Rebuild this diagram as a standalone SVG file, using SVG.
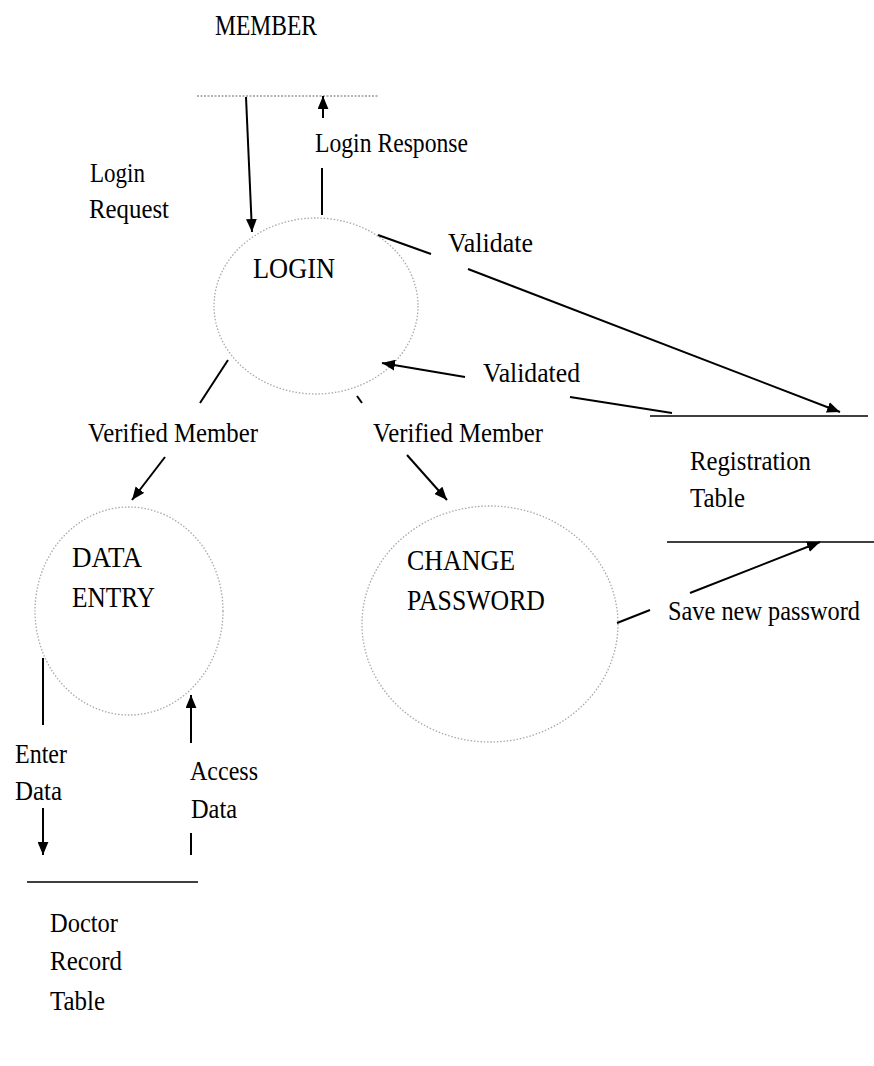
<svg xmlns="http://www.w3.org/2000/svg" width="874" height="1066" viewBox="0 0 874 1066">
<defs>
<style>
.t{font-family:"Liberation Serif","Times New Roman",serif;font-size:27px;fill:#000;}
.c{font-family:"Liberation Serif","Times New Roman",serif;font-size:29px;fill:#000;}
.p{fill:none;stroke:#a8a8a8;stroke-width:1.3;stroke-dasharray:1.5 1.8;}
.l{stroke:#000;stroke-width:2;fill:none;}
.s{stroke:#000;stroke-width:1.6;fill:none;}
</style>
<marker id="ah" viewBox="0 0 12 10" refX="12" refY="5" markerWidth="13" markerHeight="11" markerUnits="userSpaceOnUse" orient="auto">
<path d="M0,0 L12,5 L0,10 Z" fill="#000"/>
</marker>
</defs>
<rect width="874" height="1066" fill="#fff"/>

<g id="member">
<line x1="197" y1="96" x2="378" y2="96" stroke="#9a9a9a" stroke-width="1.3" stroke-dasharray="2 1.5"/>
<text class="c" x="215" y="35" textLength="102" lengthAdjust="spacingAndGlyphs">MEMBER</text>
</g>

<g id="login">
<ellipse class="p" cx="316" cy="306" rx="102" ry="88"/>
<text class="c" x="253" y="278" textLength="82" lengthAdjust="spacingAndGlyphs">LOGIN</text>
</g>

<g id="data-entry">
<ellipse class="p" cx="129" cy="611" rx="94" ry="104"/>
<text class="c" x="72" y="567" textLength="70" lengthAdjust="spacingAndGlyphs">DATA</text>
<text class="c" x="72" y="607" textLength="83" lengthAdjust="spacingAndGlyphs">ENTRY</text>
</g>

<g id="change-password">
<ellipse class="p" cx="490" cy="624" rx="128" ry="118"/>
<text class="c" x="407" y="570" textLength="108" lengthAdjust="spacingAndGlyphs">CHANGE</text>
<text class="c" x="407" y="610" textLength="138" lengthAdjust="spacingAndGlyphs">PASSWORD</text>
</g>

<g id="registration-table">
<line class="s" x1="650" y1="416" x2="868" y2="416"/>
<line class="s" x1="667" y1="542" x2="874" y2="542"/>
<text class="t" x="690" y="470" textLength="121" lengthAdjust="spacingAndGlyphs">Registration</text>
<text class="t" x="690" y="507" textLength="55" lengthAdjust="spacingAndGlyphs">Table</text>
</g>

<g id="doctor-record-table">
<line class="s" x1="27" y1="882" x2="198" y2="882"/>
<text class="t" x="50" y="932" textLength="68" lengthAdjust="spacingAndGlyphs">Doctor</text>
<text class="t" x="50" y="970" textLength="72" lengthAdjust="spacingAndGlyphs">Record</text>
<text class="t" x="50" y="1010" textLength="55" lengthAdjust="spacingAndGlyphs">Table</text>
</g>

<g id="connectors">
<line class="l" x1="246" y1="97" x2="252" y2="232" marker-end="url(#ah)"/>
<line class="l" x1="323" y1="118" x2="323" y2="96" marker-end="url(#ah)"/>
<line class="l" x1="322" y1="168" x2="322" y2="215"/>
<line class="l" x1="378" y1="235" x2="431" y2="254"/>
<line class="l" x1="468" y1="269" x2="840" y2="412" marker-end="url(#ah)"/>
<line class="l" x1="465" y1="377" x2="382" y2="363" marker-end="url(#ah)"/>
<line class="l" x1="570" y1="397" x2="672" y2="413"/>
<line class="l" x1="617" y1="623" x2="650" y2="610"/>
<line class="l" x1="690" y1="593" x2="820" y2="542" marker-end="url(#ah)"/>
<line class="l" x1="228" y1="360" x2="200" y2="403"/>
<line class="l" x1="165" y1="457" x2="132" y2="500" marker-end="url(#ah)"/>
<line class="l" x1="357" y1="396" x2="362" y2="403"/>
<line class="l" x1="407" y1="455" x2="447" y2="500" marker-end="url(#ah)"/>
<line class="l" x1="43" y1="658" x2="43" y2="725"/>
<line class="l" x1="43" y1="808" x2="43" y2="855" marker-end="url(#ah)"/>
<line class="l" x1="191" y1="743" x2="191" y2="695" marker-end="url(#ah)"/>
<line class="l" x1="191" y1="833" x2="191" y2="855"/>
</g>

<g id="labels">
<text class="t" x="90" y="182" textLength="55" lengthAdjust="spacingAndGlyphs">Login</text>
<text class="t" x="89" y="218" textLength="80" lengthAdjust="spacingAndGlyphs">Request</text>
<text class="t" x="315" y="152" textLength="153" lengthAdjust="spacingAndGlyphs">Login Response</text>
<text class="t" x="448" y="252" textLength="85" lengthAdjust="spacingAndGlyphs">Validate</text>
<text class="t" x="483" y="382" textLength="97" lengthAdjust="spacingAndGlyphs">Validated</text>
<text class="t" x="88" y="442" textLength="170" lengthAdjust="spacingAndGlyphs">Verified Member</text>
<text class="t" x="373" y="442" textLength="170" lengthAdjust="spacingAndGlyphs">Verified Member</text>
<text class="t" x="668" y="620" textLength="192" lengthAdjust="spacingAndGlyphs">Save new password</text>
<text class="t" x="15" y="763" textLength="52" lengthAdjust="spacingAndGlyphs">Enter</text>
<text class="t" x="15" y="800" textLength="47" lengthAdjust="spacingAndGlyphs">Data</text>
<text class="t" x="190" y="780" textLength="68" lengthAdjust="spacingAndGlyphs">Access</text>
<text class="t" x="191" y="818" textLength="46" lengthAdjust="spacingAndGlyphs">Data</text>
</g>
</svg>
